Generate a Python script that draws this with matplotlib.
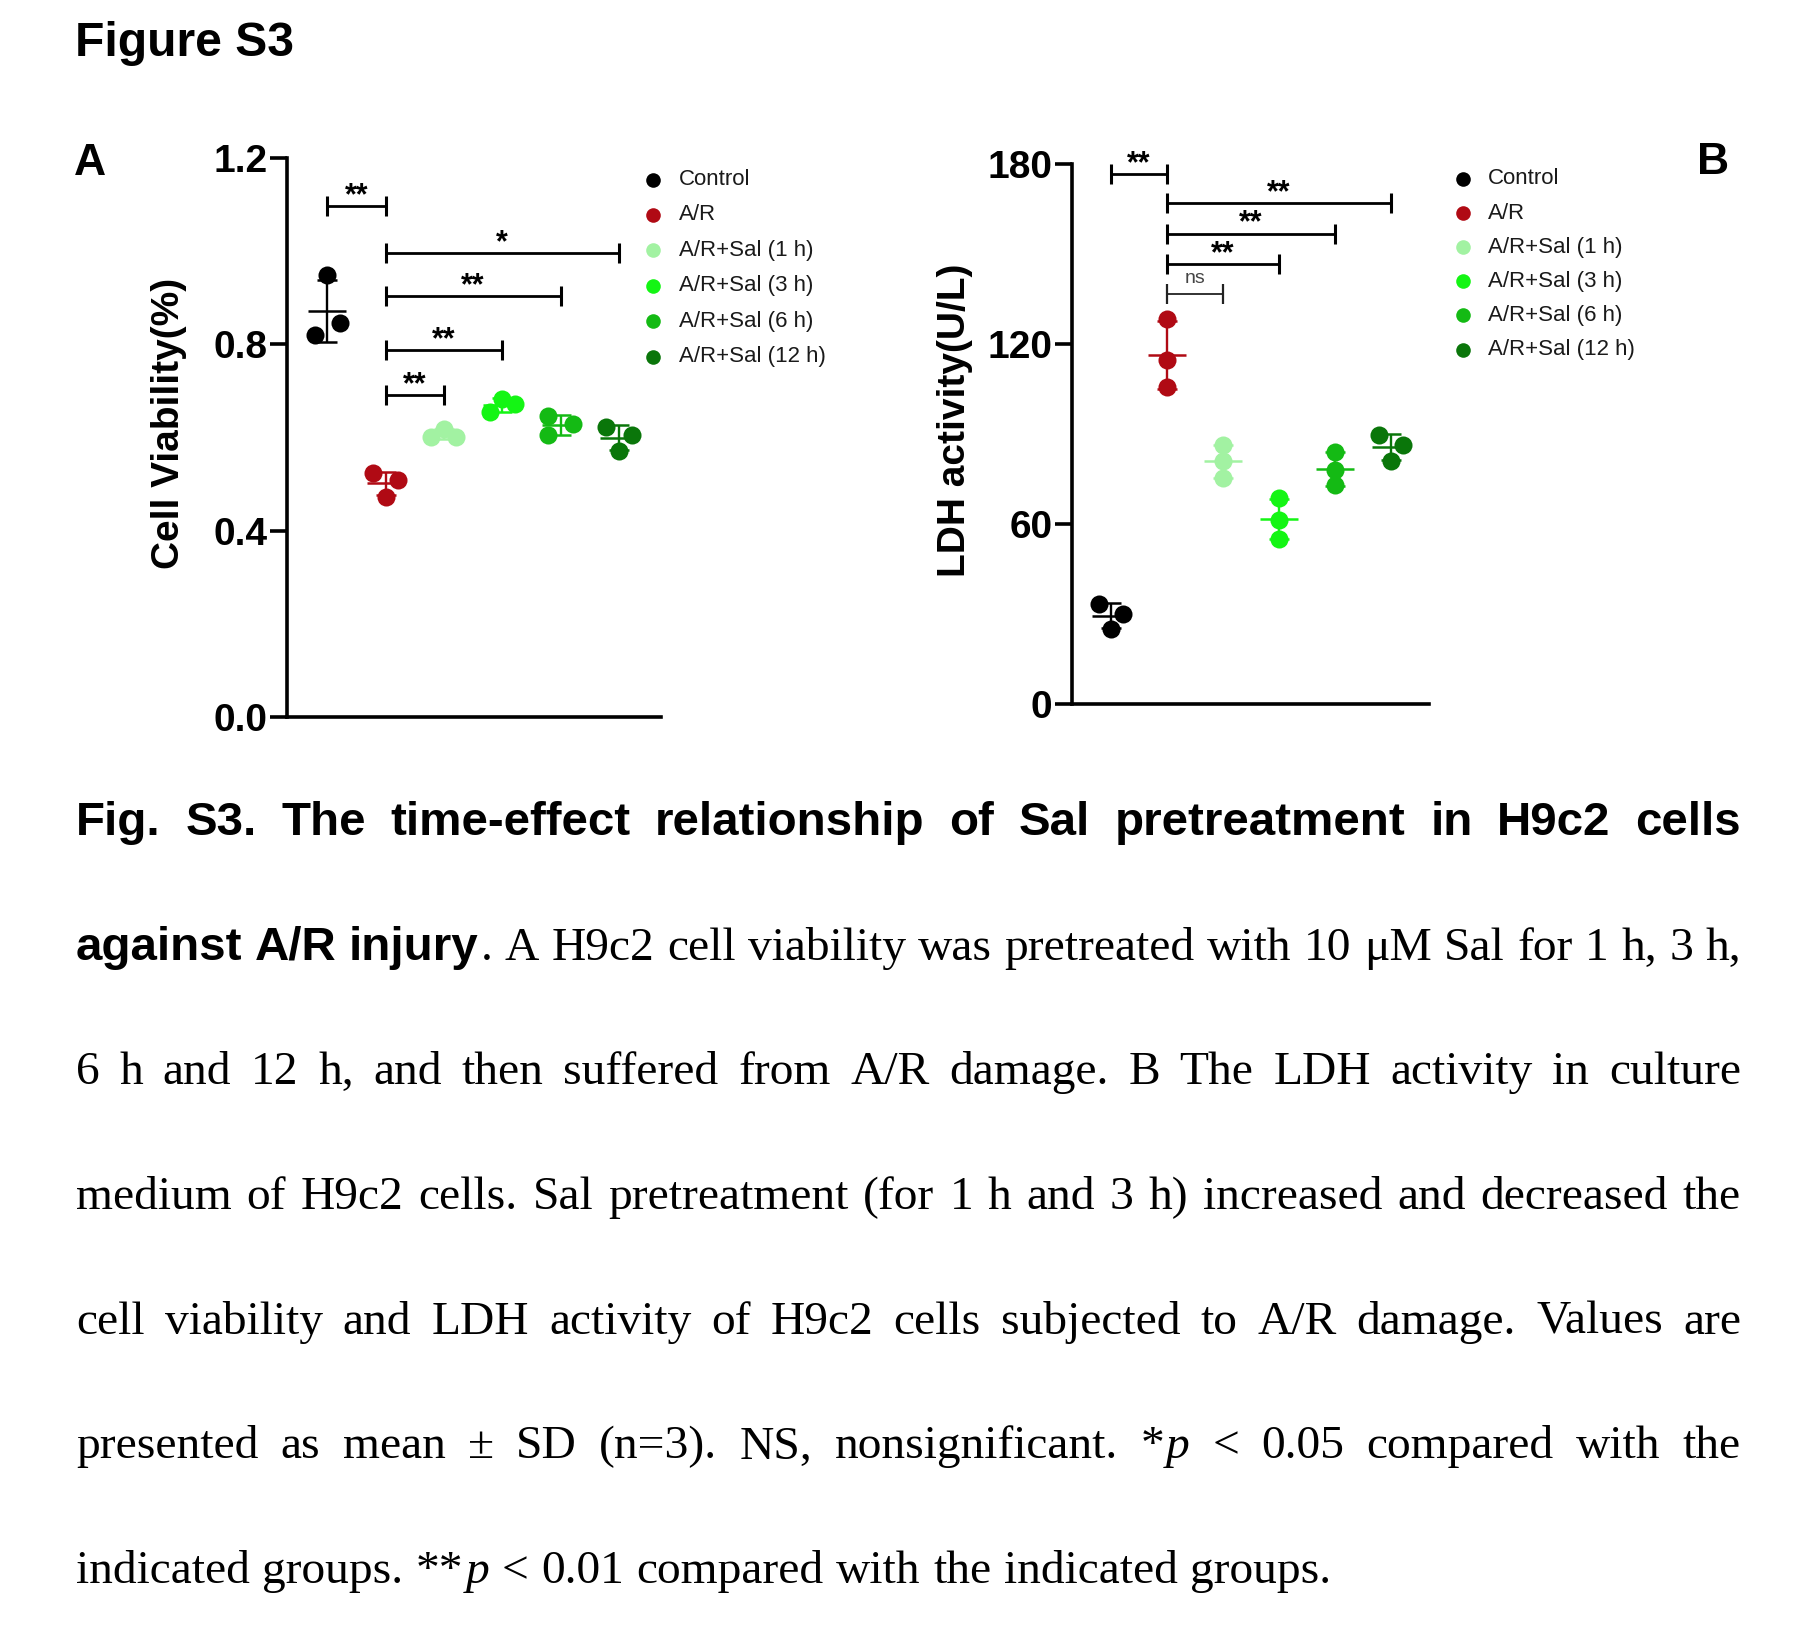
import numpy as np
import matplotlib
matplotlib.use("Agg")
import matplotlib.pyplot as plt
from matplotlib.lines import Line2D

# ---------------- data ----------------
groups = ["Control", "A/R", "A/R+Sal (1 h)", "A/R+Sal (3 h)", "A/R+Sal (6 h)", "A/R+Sal (12 h)"]
colors = ["#000000", "#B00A14", "#A2F2A2", "#14F514", "#14BA14", "#0A760A"]

viability_control = [0.948, 0.846, 0.821]
viability_ar = [0.523, 0.508, 0.473]
viability_sal1 = [0.619, 0.601, 0.601]
viability_sal3 = [0.683, 0.671, 0.654]
viability_sal6 = [0.646, 0.630, 0.605]
viability_sal12 = [0.623, 0.605, 0.572]

ldh_control = [33.1, 29.9, 24.8]
ldh_ar = [128.2, 114.7, 105.6]
ldh_sal1 = [86.2, 80.8, 75.3]
ldh_sal3 = [68.4, 61.3, 55.0]
ldh_sal6 = [84.0, 77.8, 72.8]
ldh_sal12 = [89.4, 86.2, 80.8]

viability_ticks = [0.0, 0.4, 0.8, 1.2]
viability_tick_labels = ["0.0", "0.4", "0.8", "1.2"]
ldh_ticks = [0, 60, 120, 180]
ldh_tick_labels = ["0", "60", "120", "180"]

viability_comparisons = [(0, 1, "**"), (1, 5, "*"), (1, 4, "**"), (1, 3, "**"), (1, 2, "**")]
viability_bracket_y = [1.097, 0.996, 0.903, 0.788, 0.691]
ldh_comparisons = [(0, 1, "**"), (1, 5, "**"), (1, 4, "**"), (1, 3, "**"), (1, 2, "ns")]
ldh_bracket_y = [176.4, 166.9, 156.7, 146.5, 136.4]

caption_lines = [
    [("b", "Fig. S3. The time-effect relationship of Sal pretreatment in H9c2 cells")],
    [("b", "against A/R injury"), ("r", ". A H9c2 cell viability was pretreated with 10 \u03bcM Sal for 1 h, 3 h,")],
    [("r", "6 h and 12 h, and then suffered from A/R damage. B The LDH activity in culture")],
    [("r", "medium of H9c2 cells. Sal pretreatment (for 1 h and 3 h) increased and decreased the")],
    [("r", "cell viability and LDH activity of H9c2 cells subjected to A/R damage. Values are")],
    [("r", "presented as mean \u00b1 SD (n=3). NS, nonsignificant. *"), ("i", "p"), ("r", " < 0.05 compared with the")],
    [("r", "indicated groups. **"), ("i", "p"), ("r", " < 0.01 compared with the indicated groups.")],
]

# ---------------- layout (styles / positions) ----------------
W, H = 1794, 1641
DPI = 100
SANS = "Liberation Sans"
SERIF = "Liberation Serif"

# horizontal jitter pattern of the replicate dots (-1 left, 0 centre, 1 right)
jitter_a = [[0, 1, -1], [-1, 1, 0], [0, -1, 1], [0, 1, -1], [-1, 1, -1], [-1, 1, 0]]
jitter_b = [[-1, 1, 0], [0, 0, 0], [0, 0, 0], [0, 0, 0], [0, 0, 0], [-1, 1, 0]]
JIT = 0.215

fig = plt.figure(figsize=(W / DPI, H / DPI), dpi=DPI)
fig.patch.set_facecolor("white")


def fx(x):
    return x / W


def fy(y):
    return 1 - y / H


def draw_panel(ax, data, jitter, ticks, ticklabels, ylim, xlim, comps, bys):
    for i, vals in enumerate(data):
        vals = np.asarray(vals, dtype=float)
        xs = i + np.asarray(jitter[i], dtype=float) * JIT
        ax.plot(xs, vals, "o", ms=13, color=colors[i], mew=0, zorder=3, clip_on=False)
        m = vals.mean()
        sd = vals.std(ddof=1)
        ax.errorbar([i], [m], yerr=[sd], fmt="_", color=colors[i], markersize=27.5,
                    mew=1.8, elinewidth=1.7, capsize=7, capthick=1.7, zorder=4)
    for (a, b, lab), y in zip(comps, bys):
        if lab == "ns":
            ax.plot([a, b], [y, y], color="#222222", lw=1.3, marker="|", ms=15, mew=1.6,
                    clip_on=False, zorder=5, solid_capstyle="butt")
            ax.annotate(lab, xy=((a + b) / 2, y), xytext=(0, 8.5), textcoords="offset points",
                        ha="center", va="baseline", fontsize=14, family=SANS, color="#444444")
        else:
            ax.plot([a, b], [y, y], color="black", lw=2.0, marker="|", ms=15, mew=2.2,
                    clip_on=False, zorder=5, solid_capstyle="butt")
            ax.annotate(lab, xy=((a + b) / 2, y), xytext=(0, 1.5), textcoords="offset points",
                        ha="center", va="baseline", fontsize=22, family=SANS,
                        weight="bold", color="black")
    ax.set_xlim(*xlim)
    ax.set_ylim(*ylim)
    ax.set_xticks([])
    ax.set_yticks(ticks)
    ax.set_yticklabels(ticklabels, fontsize=28, fontweight="bold", family=SANS)
    ax.tick_params(axis="y", length=12, width=2.6, pad=2)
    for s in ["top", "right"]:
        ax.spines[s].set_visible(False)
    for s in ["left", "bottom"]:
        ax.spines[s].set_linewidth(2.6)
    ax.patch.set_alpha(0)


axA = fig.add_axes([fx(287), fy(717), 374 / W, 559 / H])
draw_panel(axA,
           [viability_control, viability_ar, viability_sal1, viability_sal3, viability_sal6, viability_sal12],
           jitter_a, viability_ticks, viability_tick_labels, (0, 1.2), (-0.69, 5.72),
           viability_comparisons, viability_bracket_y)

axB = fig.add_axes([fx(1072), fy(703.6), 357 / W, 540 / H])
draw_panel(axB,
           [ldh_control, ldh_ar, ldh_sal1, ldh_sal3, ldh_sal6, ldh_sal12],
           jitter_b, ldh_ticks, ldh_tick_labels, (0, 180), (-0.70, 5.68),
           ldh_comparisons, ldh_bracket_y)

# y labels
fig.text(fx(169), fy(423), "Cell Viability(%)", rotation=90, ha="center", va="center",
         fontsize=28, weight="bold", family=SANS)
fig.text(fx(955), fy(420.5), "LDH activity(U/L)", rotation=90, ha="center", va="center",
         fontsize=28, weight="bold", family=SANS)

# legends
for (mx, tx, y0, dy) in [(653, 679, 179.5, 35.4), (1462.5, 1488, 179.0, 34.1)]:
    for k, g in enumerate(groups):
        yy = y0 + k * dy
        fig.add_artist(Line2D([fx(mx)], [fy(yy)], marker="o", ms=10.5, color=colors[k],
                              ls="none", mew=0, transform=fig.transFigure))
        fig.text(fx(tx), fy(yy), g, ha="left", va="center", fontsize=16, family=SANS,
                 color="#1a1a1a")

# titles / panel letters
fig.text(fx(75), fy(56), "Figure S3", fontsize=34.6, weight="bold", family=SANS, va="baseline")
fig.text(fx(74), fy(175), "A", fontsize=32, weight="bold", family=SANS, va="baseline")
fig.text(fx(1697), fy(174), "B", fontsize=32, weight="bold", family=SANS, va="baseline")

# caption (justified)
CAP_FS = 34.2
STYLES = {
    "b": dict(family=SANS, weight="bold"),
    "r": dict(family=SERIF),
    "i": dict(family=SERIF, style="italic"),
}
renderer = fig.canvas.get_renderer()


def measure(s, st):
    t = fig.text(0, 0, s, fontsize=CAP_FS, **STYLES[st])
    w = t.get_window_extent(renderer=renderer).width
    t.remove()
    return w


LEFT, RIGHT = 76, 1741
BASE0, LSTEP = 835, 124.7
SEG_GAP = 2.0
NAT_GAP = 12.5

for li, runs in enumerate(caption_lines):
    words = [[]]
    for st, txt in runs:
        parts = txt.split(" ")
        for k, p in enumerate(parts):
            if k > 0:
                words.append([])
            if p:
                words[-1].append((st, p))
    words = [w for w in words if w]
    widths = []
    for w in words:
        ws = [measure(s, st) for st, s in w]
        widths.append((ws, sum(ws) + SEG_GAP * (len(ws) - 1)))
    total = sum(t for _, t in widths)
    last = li == len(caption_lines) - 1
    gap = NAT_GAP if last else (RIGHT - LEFT - total) / (len(words) - 1)
    x = LEFT
    base = BASE0 + li * LSTEP
    for w, (ws, tot) in zip(words, widths):
        xx = x
        for (st, s), sw in zip(w, ws):
            fig.text(fx(xx), fy(base), s, fontsize=CAP_FS, va="baseline", ha="left", **STYLES[st])
            xx += sw + SEG_GAP
        x += tot + gap

fig.savefig("out.png", dpi=DPI, facecolor="white")
